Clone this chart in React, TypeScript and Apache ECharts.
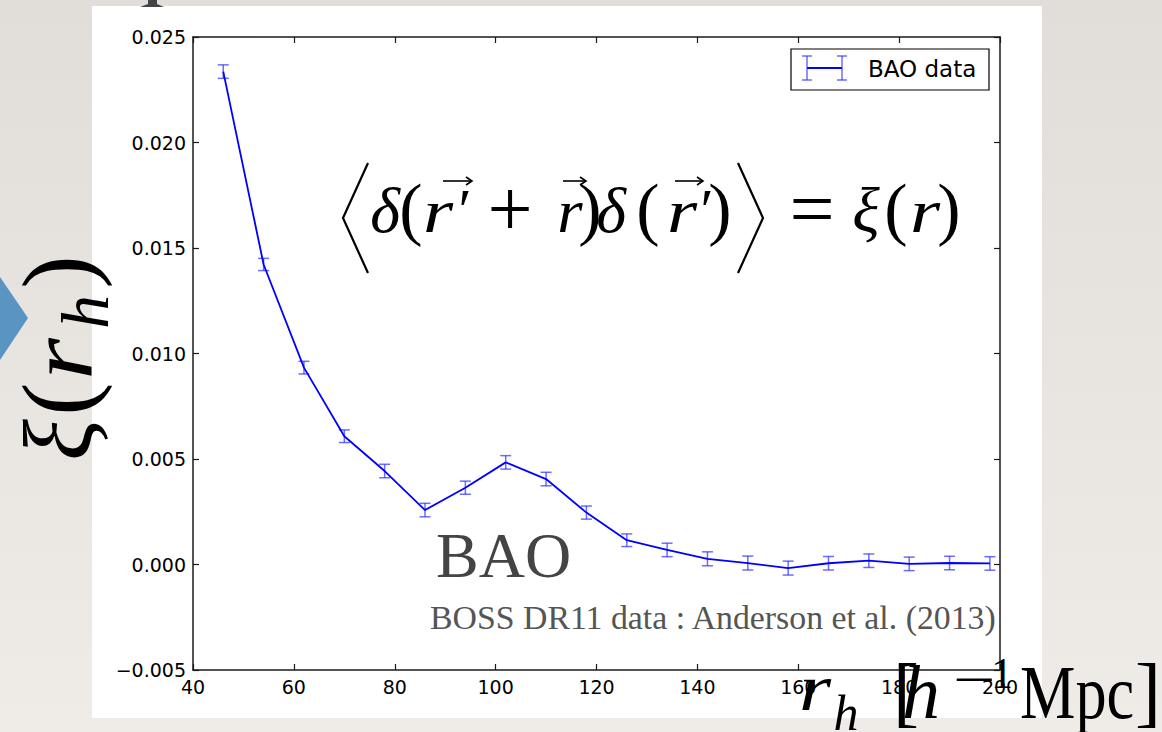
import React, { useEffect, useRef } from "react";
import * as echarts from "echarts";

// ---- data ----
const rValues = [46, 54, 62, 70, 78, 86, 94, 102, 110, 118, 126, 134, 142, 150, 158, 166, 174, 182, 190, 198];
const xiValues = [0.02336, 0.01422, 0.00933, 0.00608, 0.00443, 0.00258, 0.00364, 0.00484, 0.00405, 0.00246, 0.00115, 0.00069, 0.00027, 0.00007, -0.00017, 0.00006, 0.00018, 0.00003, 0.00007, 0.00005];
const xiErrors = [0.00032, 0.00029, 0.0003, 0.0003, 0.00032, 0.00032, 0.00031, 0.00032, 0.00032, 0.00031, 0.0003, 0.00032, 0.00033, 0.00033, 0.00033, 0.00032, 0.00032, 0.00032, 0.00032, 0.00032];
const xTickRange = { min: 40, max: 200, step: 20 };
const yTickRange = { min: -0.005, max: 0.025, step: 0.005 };
const seriesName = "BAO data";
const annotationBig = "BAO";
const citation = "BOSS DR11 data : Anderson et al. (2013)";

const SERIF = "'Liberation Serif', 'DejaVu Serif', serif";
const SANS = "'DejaVu Sans', sans-serif";

function t(text: string, cx: number, baseline: number, size: number, o: any = {}) {
  const align = o.align || "center";
  return {
    type: "text",
    x: cx,
    y: baseline - 0.34 * size,
    scaleX: o.scaleX || 1,
    z: 10,
    style: {
      text,
      x: 0,
      y: 0,
      fontSize: size,
      fontFamily: o.family || SERIF,
      fontStyle: o.italic ? "italic" : "normal",
      fill: o.fill || "#000",
      align,
      verticalAlign: "middle",
    },
  };
}

function arrow(x1: number, x2: number, y: number) {
  return [
    { type: "line", z: 10, shape: { x1, y1: y, x2, y2: y }, style: { stroke: "#000", lineWidth: 1.6 } },
    { type: "polyline", z: 10, shape: { points: [[x2 - 6, y - 4], [x2, y], [x2 - 6, y + 4]] }, style: { stroke: "#000", lineWidth: 1.6, fill: null } },
  ];
}

function yFmt(v: number) {
  if (Math.abs(v) < 1e-9) return "0.000";
  const s = v.toFixed(3);
  return s.startsWith("-") ? "\u2212" + s.slice(1) : s;
}

export default function App() {
  const ref = useRef<HTMLDivElement>(null);
  useEffect(() => {
    const chart = echarts.init(ref.current!, null, { renderer: "svg" });
    const lineData = rValues.map((r, i) => [r, xiValues[i]]);
    const errData = rValues.map((r, i) => [r, xiValues[i] - xiErrors[i], xiValues[i] + xiErrors[i]]);

    const axisLine = { show: true, onZero: false, lineStyle: { color: "#1a1a1a", width: 1.5 } };
    const axisTick = { show: true, inside: true, length: 6, lineStyle: { color: "#1a1a1a", width: 1.2 } };
    const labelStyle = { color: "#000", fontSize: 19, fontFamily: SANS };

    const errColor = "rgba(40,40,255,0.68)";
    const R = { italic: true, scaleX: 1.25 };

    const elements: any[] = [
      // backdrop
      {
        type: "rect", z: -20, shape: { x: 0, y: 0, width: 1162, height: 732 },
        style: { fill: new echarts.graphic.LinearGradient(0, 0, 0, 1, [{ offset: 0, color: "#e1ded9" }, { offset: 1, color: "#efece7" }]) },
      },
      { type: "rect", z: -19, shape: { x: 92, y: 6, width: 950, height: 712 }, style: { fill: "#ffffff" } },
      // blue diamond at the left edge
      { type: "polygon", z: -18, shape: { points: [[0, 277], [28, 318], [0, 360]] }, style: { fill: "#5a94c2" } },
      // partial glyph at the top
      { type: "polygon", z: -18, shape: { points: [[148, 0], [157, 0], [157, 4], [164, 7], [140, 7], [148, 4]] }, style: { fill: "#444" } },
      // legend
      { type: "rect", z: 10, shape: { x: 791, y: 49, width: 198, height: 41 }, style: { fill: "#fff", stroke: "#000", lineWidth: 1.2 } },
      { type: "line", z: 11, shape: { x1: 807, y1: 68, x2: 842, y2: 68 }, style: { stroke: "#0000ff", lineWidth: 1.8 } },
      { type: "line", z: 11, shape: { x1: 807, y1: 56, x2: 807, y2: 80 }, style: { stroke: errColor, lineWidth: 1.5 } },
      { type: "line", z: 11, shape: { x1: 802, y1: 56, x2: 812, y2: 56 }, style: { stroke: errColor, lineWidth: 1.5 } },
      { type: "line", z: 11, shape: { x1: 802, y1: 80, x2: 812, y2: 80 }, style: { stroke: errColor, lineWidth: 1.5 } },
      { type: "line", z: 11, shape: { x1: 842, y1: 56, x2: 842, y2: 80 }, style: { stroke: errColor, lineWidth: 1.5 } },
      { type: "line", z: 11, shape: { x1: 837, y1: 56, x2: 847, y2: 56 }, style: { stroke: errColor, lineWidth: 1.5 } },
      { type: "line", z: 11, shape: { x1: 837, y1: 80, x2: 847, y2: 80 }, style: { stroke: errColor, lineWidth: 1.5 } },
      t(seriesName, 868, 77, 23, { family: SANS, align: "left" }),
      // formula
      { type: "polyline", z: 10, shape: { points: [[368, 163], [343, 218], [368, 273]] }, style: { stroke: "#000", lineWidth: 2.2, fill: null } },
      { type: "polyline", z: 10, shape: { points: [[738, 163], [763, 218], [738, 273]] }, style: { stroke: "#000", lineWidth: 2.2, fill: null } },
      t("δ", 385, 232, 64, { italic: true }),
      t("(", 411, 232, 70),
      t("r", 438, 232, 62, R),
      t("′", 465, 230, 60),
      t("+", 510, 236, 80),
      t("r", 570, 232, 62, { italic: true, scaleX: 1.05 }),
      t(")", 590, 232, 70),
      t("δ", 611, 232, 64, { italic: true }),
      t("(", 648, 232, 70),
      t("r", 682, 232, 62, R),
      t("′", 707, 230, 60),
      t(")", 720, 232, 70),
      t("=", 812, 236, 80),
      t("ξ", 866, 232, 64, { italic: true }),
      t("(", 896, 232, 70),
      t("r", 925, 232, 62, R),
      t(")", 949, 232, 70),
      ...arrow(443, 472, 181),
      ...arrow(563, 586, 181),
      ...arrow(675, 703, 181),
      // annotations
      t(annotationBig, 436, 577, 64, { align: "left", fill: "#444" }),
      t(citation, 430, 629, 33.8, { align: "left", fill: "#555" }),
      // x axis title
      t("r", 815, 710, 66, R),
      t("h", 846, 730, 50, { italic: true }),
      t("[", 893, 718, 78, { align: "left" }),
      t("h", 921, 718, 76, { italic: true }),
      t("\u2212", 974, 697, 52, { scaleX: 1.45 }),
      t("1", 1002, 688, 44),
      t("Mpc", 1020, 718, 76, { align: "left", scaleX: 0.82 }),
      t("]", 1161, 718, 78, { align: "right" }),
      // y axis title (rotated)
      {
        type: "group", x: 91, y: 465, rotation: Math.PI / 2, z: 10,
        children: [
          t("ξ", 25, 0, 97, { italic: true }),
          t("(", 66, 0, 100),
          t("r", 106, 0, 90, { italic: true, scaleX: 1.2 }),
          t("h", 153, 17, 68, { italic: true }),
          t(")", 193, 0, 100),
        ],
      },
    ];

    const xAxisBase = {
      type: "value", min: xTickRange.min, max: xTickRange.max, interval: xTickRange.step,
      axisLine, axisTick, splitLine: { show: false },
    };
    const yAxisBase = {
      type: "value", min: yTickRange.min, max: yTickRange.max, interval: yTickRange.step,
      axisLine, axisTick, splitLine: { show: false },
    };

    chart.setOption({
      animation: false,
      backgroundColor: "#e6e3de",
      grid: { left: 193, top: 37, width: 807, height: 633, containLabel: false },
      xAxis: [
        { ...xAxisBase, position: "bottom", axisLabel: { ...labelStyle, margin: 7 } },
        { ...xAxisBase, position: "top", axisLabel: { show: false } },
      ],
      yAxis: [
        { ...yAxisBase, position: "left", axisLabel: { ...labelStyle, margin: 7, formatter: yFmt } },
        { ...yAxisBase, position: "right", axisLabel: { show: false } },
      ],
      series: [
        {
          name: seriesName, type: "line", data: lineData, xAxisIndex: 0, yAxisIndex: 0,
          showSymbol: false, symbol: "none", lineStyle: { color: "#0000ff", width: 1.8 }, z: 4,
        },
        {
          name: seriesName + " errors", type: "custom", data: errData, xAxisIndex: 0, yAxisIndex: 0, z: 3,
          encode: { x: 0, y: [1, 2] },
          renderItem: (_p: any, api: any) => {
            const x = api.value(0);
            const lo = api.coord([x, api.value(1)]);
            const hi = api.coord([x, api.value(2)]);
            const hw = 5.5;
            const style = { stroke: errColor, lineWidth: 1.5 };
            return {
              type: "group",
              children: [
                { type: "line", shape: { x1: lo[0], y1: lo[1], x2: hi[0], y2: hi[1] }, style },
                { type: "line", shape: { x1: lo[0] - hw, y1: lo[1], x2: lo[0] + hw, y2: lo[1] }, style },
                { type: "line", shape: { x1: hi[0] - hw, y1: hi[1], x2: hi[0] + hw, y2: hi[1] }, style },
              ],
            };
          },
        },
      ],
      graphic: { elements },
    });
    return () => chart.dispose();
  }, []);
  return <div ref={ref} style={{ position: "fixed", left: 0, top: 0, width: 1162, height: 732 }} />;
}
